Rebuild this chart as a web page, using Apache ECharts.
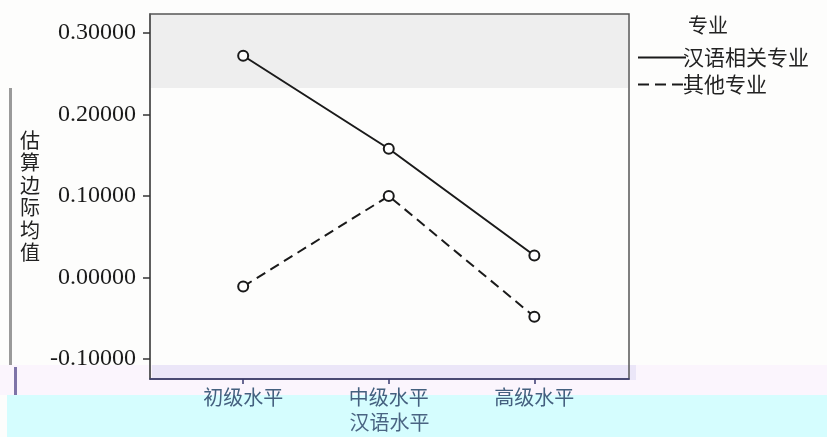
<!DOCTYPE html>
<html><head><meta charset="utf-8">
<script src="https://cdn.jsdelivr.net/npm/echarts@6/dist/echarts.min.js"></script>
<style>html,body{margin:0;padding:0;background:#fdfdfc;}#c{width:827px;height:437px;}</style>
</head><body><div id="c"></div>
<script>
const categories = ['初级水平', '中级水平', '高级水平'];
const seriesNames = ['汉语相关专业', '其他专业'];
const relatedValues = [0.272, 0.158, 0.027];
const otherValues = [-0.011, 0.100, -0.048];
const yTicks = [-0.1, 0, 0.1, 0.2, 0.3];
const legendTitle = '专业';
const yName = '估算边际均值';
const xName = '汉语水平';

const toPoints = vals => vals.map((v, i) => [i, v]);
const solidIcon = 'path://M0,0h48v2h-48z';
const dashIcon = 'path://M0,0h11v2h-11z M17,0h11v2h-11z M34,0h11v2h-11z M46,0h2v2h-2z';
const chart = echarts.init(document.getElementById('c'));
chart.setOption({
  backgroundColor: '#fdfdfc',
  animation: false,
  graphic: [
    { type: 'rect', z: -10, shape: { x: 150, y: 14, width: 478, height: 74 }, style: { fill: '#eeeeee' } },
    { type: 'rect', z: -10, shape: { x: 0, y: 365, width: 827, height: 30 }, style: { fill: '#fbf5fd' } },
    { type: 'rect', z: -9, shape: { x: 152, y: 365, width: 484, height: 15 }, style: { fill: '#ebe6f8' } },
    { type: 'rect', z: -10, shape: { x: 7, y: 395, width: 820, height: 42 }, style: { fill: '#d5fdfe' } },
    { type: 'rect', z: -10, shape: { x: 9, y: 88, width: 3, height: 277 }, style: { fill: '#9a9a9a' } },
    { type: 'rect', z: -10, shape: { x: 14, y: 367, width: 3, height: 28 }, style: { fill: '#7e74a8' } }
  ],
  title: {
    text: legendTitle, left: 683, top: 10,
    textStyle: { fontFamily: 'Noto Sans CJK SC', fontSize: 20, fontWeight: 'normal', color: '#222' }
  },
  legend: {
    orient: 'vertical', left: 633, top: 42,
    itemWidth: 48, itemHeight: 2, itemGap: 6,
    data: [
      { name: seriesNames[0], icon: solidIcon },
      { name: seriesNames[1], icon: dashIcon }
    ],
    textStyle: { fontFamily: 'Noto Sans CJK SC', fontSize: 21, color: '#222', padding: [0, 0, 0, -8] }
  },
  grid: {
    left: 150, right: 198, top: 14, bottom: 57,
    show: true, borderColor: '#555', borderWidth: 1.5, backgroundColor: 'transparent'
  },
  xAxis: {
    type: 'value', min: -0.64, max: 2.65,
    name: xName, nameLocation: 'middle', nameGap: 32,
    nameTextStyle: { fontFamily: 'Noto Sans CJK SC', fontSize: 20, color: '#4a6482' },
    axisLine: { show: true, onZero: false, lineStyle: { color: '#3a3a70', width: 1.5 } },
    axisTick: { show: true, customValues: [0, 1, 2], length: 5, lineStyle: { color: '#3a3a70', width: 1.5 } },
    axisLabel: {
      customValues: [0, 1, 2], margin: 8,
      formatter: v => categories[Math.round(v)],
      fontFamily: 'Noto Sans CJK SC', fontSize: 20, color: '#44607f'
    },
    splitLine: { show: false }
  },
  yAxis: {
    type: 'value', min: -0.1245, max: 0.3232,
    name: yName.split('').join('\n'), nameLocation: 'middle', nameRotate: 0, nameGap: 110,
    nameTextStyle: { fontFamily: 'Noto Sans CJK SC', fontSize: 20, lineHeight: 22.5, color: '#222' },
    axisLine: { show: true, onZero: false, lineStyle: { color: '#555', width: 1.5 } },
    axisTick: { show: true, customValues: yTicks, length: 7, lineStyle: { color: '#333', width: 1.5 } },
    axisLabel: {
      customValues: yTicks, margin: 14,
      formatter: v => v.toFixed(5),
      fontFamily: 'Liberation Serif', fontSize: 24, color: '#1a1a1a'
    },
    splitLine: { show: false }
  },
  series: [
    {
      name: seriesNames[0], type: 'line', data: toPoints(relatedValues),
      symbol: 'emptyCircle', symbolSize: 10,
      lineStyle: { color: '#1a1a1a', width: 2, type: 'solid' },
      itemStyle: { color: '#1a1a1a', borderWidth: 3 }
    },
    {
      name: seriesNames[1], type: 'line', data: toPoints(otherValues),
      symbol: 'emptyCircle', symbolSize: 10,
      lineStyle: { color: '#1a1a1a', width: 2, type: [10, 6] },
      itemStyle: { color: '#1a1a1a', borderWidth: 3 }
    }
  ]
});
</script></body></html>
